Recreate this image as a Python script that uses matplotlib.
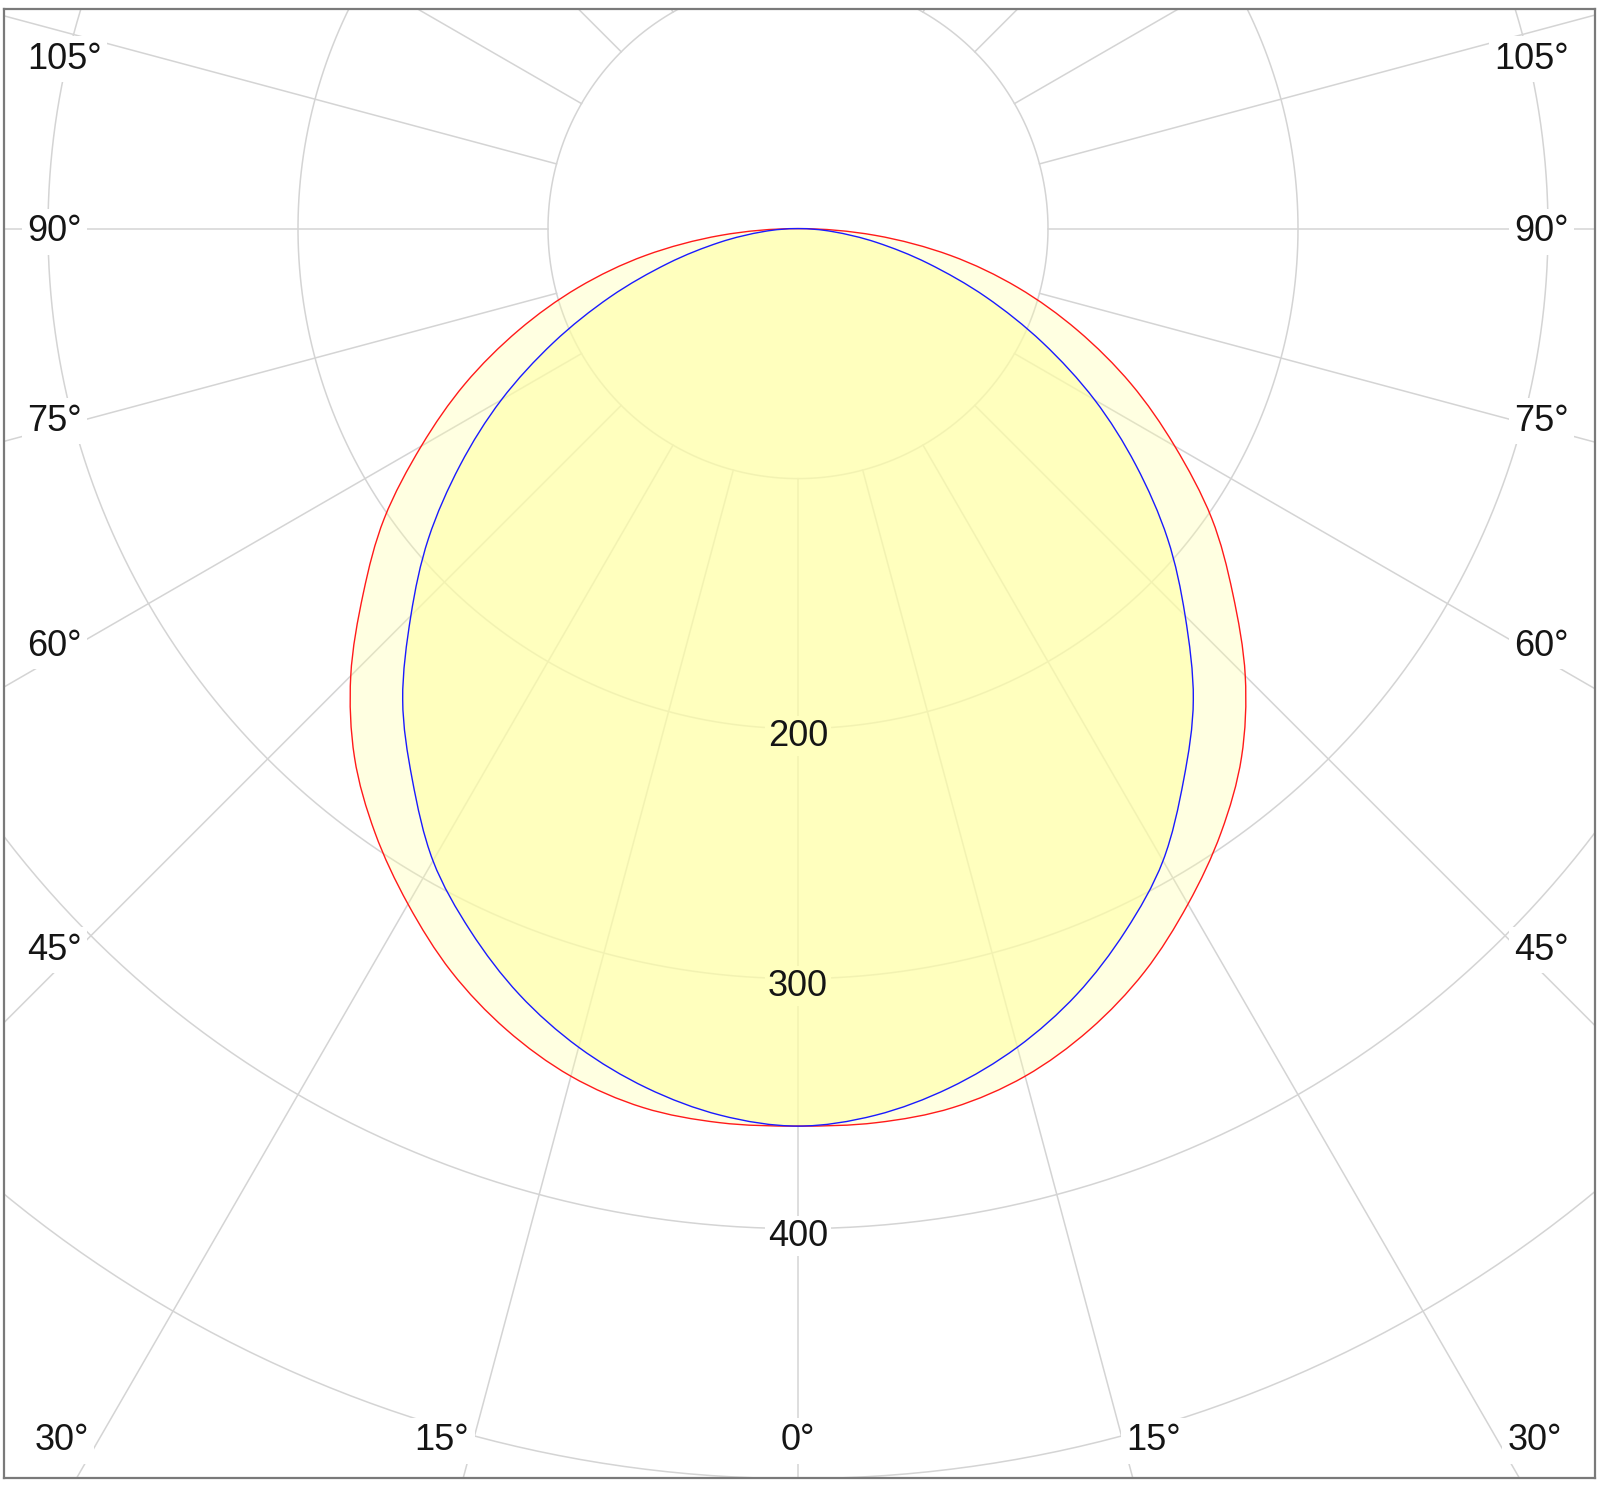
import numpy as np
import matplotlib
matplotlib.use("Agg")
import matplotlib.pyplot as plt
from matplotlib.path import Path
from matplotlib.patches import PathPatch

plt.rcParams["font.family"] = ["Liberation Sans", "DejaVu Sans"]

# Luminous intensity (cd/klm) against angle from nadir, two C-planes
angles = [0, 5, 10, 15, 20, 25, 30, 35, 40, 45, 50, 55, 60, 65, 70, 75, 80, 85, 90]
plane_c0_c180 = [359, 359, 357, 351, 341, 328, 312, 295, 276, 253, 227, 202, 174, 147, 119, 91, 62, 31, 0]
plane_c90_c270 = [359, 356, 349, 339, 326, 310, 292, 269, 246, 219, 193, 165, 137, 108, 80, 54, 32, 14, 0]

grid_radii = [100, 200, 300, 400, 500, 600]
radial_labels = ["200", "300", "400"]
radial_label_values = [200, 300, 400]
side_angle_labels = ["105°", "90°", "75°", "60°", "45°"]
bottom_angle_labels = ["30°", "15°", "0°", "15°", "30°"]

# layout (data units, 2.5 px per cd/klm)
xlim = (-317.6, 318.8)
ylim = (-499.76, 87.84)
side_label_y = [64.0, -5.0, -80.8, -170.8, -292.4]
bottom_label_x = [-294.6, -142.4, 0.0, 142.4, 294.6]
bottom_label_y = -488.6
label_inset = 9.2

grid_color = "#d4d4d4"
fill_rgb = (1.0, 1.0, 165 / 255)
a_outer, a_inner = 0.33, 0.58

fig = plt.figure(figsize=(16, 14.88), dpi=100)
ax = fig.add_axes([4 / 1600, 10 / 1488, 1591 / 1600, 1469 / 1488])
ax.set_xlim(*xlim)
ax.set_ylim(*ylim)
ax.set_xticks([])
ax.set_yticks([])
for s in ax.spines.values():
    s.set_color("#7a7a7a")
    s.set_linewidth(1.6)

# polar grid: circles and spokes every 15 degrees, spokes start at the first circle
t = np.linspace(0, 2 * np.pi, 721)
for r in grid_radii:
    ax.plot(r * np.sin(t), -r * np.cos(t), color=grid_color, lw=1.1, zorder=1)
for a in range(0, 360, 15):
    ar = np.deg2rad(a)
    r0, r1 = grid_radii[0], 900
    ax.plot([r0 * np.sin(ar), r1 * np.sin(ar)], [-r0 * np.cos(ar), -r1 * np.cos(ar)],
            color=grid_color, lw=1.1, zorder=1)


def outline_path(values):
    """Closed smooth (Catmull-Rom as cubic Bezier) path through the polar points,
    mirrored to both halves of the plane."""
    ang = np.array(angles, dtype=float)
    val = np.array(values, dtype=float)
    th = np.deg2rad(np.concatenate([-ang[::-1], ang[1:-1]]))
    rr = np.concatenate([val[::-1], val[1:-1]])
    pts = np.column_stack([rr * np.sin(th), -rr * np.cos(th)])
    n = len(pts)
    verts = [pts[0]]
    codes = [Path.MOVETO]
    for i in range(n):
        p0, p1, p2, p3 = pts[i - 1], pts[i], pts[(i + 1) % n], pts[(i + 2) % n]
        verts += [p1 + (p2 - p0) / 6, p2 - (p3 - p1) / 6, p2]
        codes += [Path.CURVE4] * 3
    verts.append(pts[0])
    codes.append(Path.CLOSEPOLY)
    return Path(verts, codes)


path_red = outline_path(plane_c0_c180)
path_blue = outline_path(plane_c90_c270)
ax.add_patch(PathPatch(path_red, facecolor=fill_rgb, alpha=a_outer, lw=0, zorder=2))
ax.add_patch(PathPatch(path_blue, facecolor=fill_rgb, alpha=a_inner, lw=0, zorder=2.1))
ax.add_patch(PathPatch(path_red, facecolor="none", edgecolor="#ff1a1a", lw=1.0, zorder=4))
ax.add_patch(PathPatch(path_blue, facecolor="none", edgecolor="#1a1aff", lw=1.0, zorder=4.1))

# composite colour of the overlapping fills (for label backgrounds)
white = np.ones(3)
y3 = np.array(fill_rgb)
c_outer = (1 - a_outer) * white + a_outer * y3
c_inner = (1 - a_inner) * c_outer + a_inner * y3

text_kw = dict(fontsize=26, color="#151515", zorder=6)
for lab, val in zip(radial_labels, radial_label_values):
    inside = val < plane_c90_c270[0]
    ax.text(0, -val - 6.8, lab, ha="center", va="baseline",
            bbox=dict(facecolor=tuple(c_inner) if inside else "white", edgecolor="none", pad=2),
            **text_kw)

for lab, yy in zip(side_angle_labels, side_label_y):
    ax.text(xlim[0] + label_inset, yy, lab, ha="left", va="baseline",
            bbox=dict(facecolor="white", edgecolor="none", pad=4), **text_kw)
    ax.text(xlim[1] - label_inset - 1.2, yy, lab, ha="right", va="baseline",
            bbox=dict(facecolor="white", edgecolor="none", pad=4), **text_kw)

for lab, xx in zip(bottom_angle_labels, bottom_label_x):
    ax.text(xx, bottom_label_y, lab, ha="center", va="baseline",
            bbox=dict(facecolor="white", edgecolor="none", pad=4), **text_kw)

fig.savefig("out.png", dpi=100, facecolor="white")
